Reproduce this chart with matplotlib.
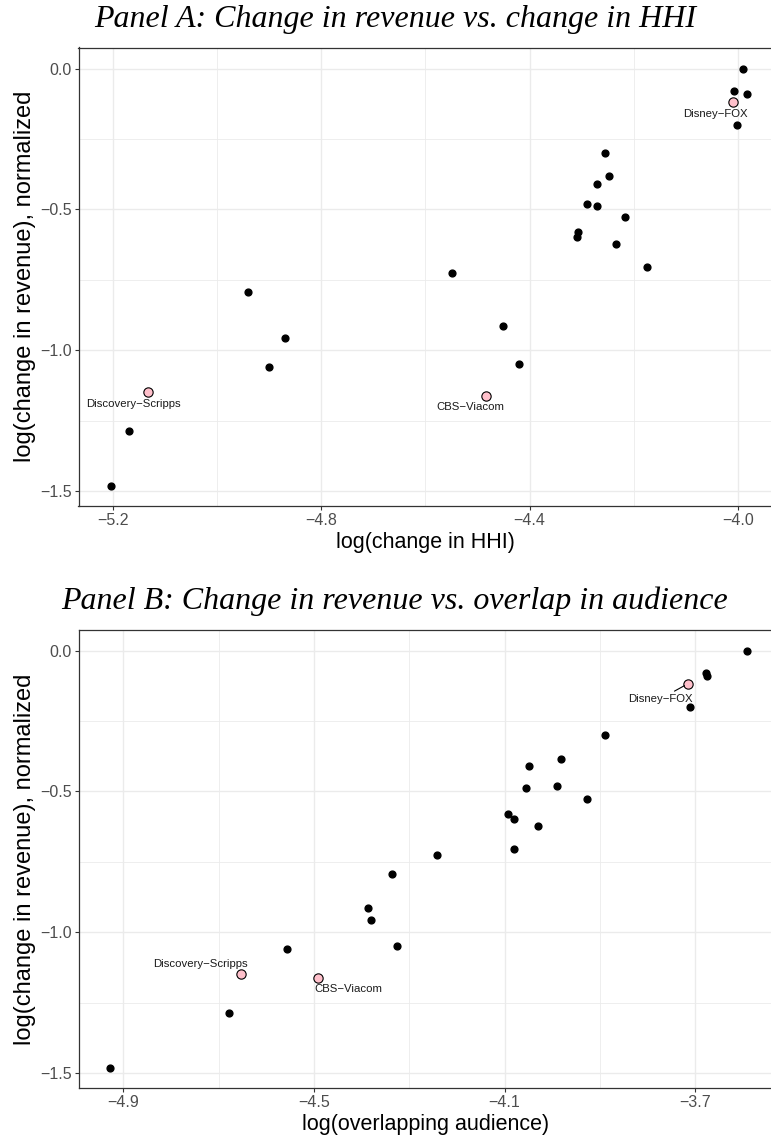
import matplotlib.pyplot as plt
from matplotlib.ticker import MultipleLocator

plt.rcParams["font.family"] = ["Liberation Sans", "DejaVu Sans"]

# merger data: log change in revenue (normalized), log change in HHI, log overlapping audience
revenue = [0.0, -0.081, -0.090, -0.200, -0.300, -0.383, -0.411, -0.482, -0.489, -0.526,
           -0.581, -0.597, -0.622, -0.704, -0.727, -0.792, -0.913, -0.955, -1.050, -1.060,
           -1.288, -1.481]
hhi = [-3.990, -4.007, -3.982, -4.001, -4.256, -4.248, -4.271, -4.290, -4.270, -4.217,
       -4.307, -4.309, -4.234, -4.174, -4.549, -4.940, -4.451, -4.870, -4.420, -4.900,
       -5.168, -5.204]
overlap = [-3.591, -3.678, -3.675, -3.711, -3.890, -3.982, -4.048, -3.990, -4.056, -3.928,
           -4.093, -4.081, -4.031, -4.080, -4.241, -4.336, -4.387, -4.380, -4.325, -4.557,
           -4.678, -4.927]

# highlighted mergers
deals = ["Disney\u2212FOX", "Discovery\u2212Scripps", "CBS\u2212Viacom"]
deal_revenue = [-0.117, -1.147, -1.161]
deal_hhi = [-4.009, -5.133, -4.484]
deal_overlap = [-3.715, -4.653, -4.492]

# label offsets in points (dx, dy) for each panel
offsets_a = [(-13, -9), (-10, -9), (-11, -8)]
offsets_b = [(-20, -11), (-29, 7), (22, -8)]

grid_col = "#EBEBEB"


def style_axis(ax, xmajor, ymajor):
    ax.xaxis.set_major_locator(MultipleLocator(xmajor))
    ax.xaxis.set_minor_locator(MultipleLocator(xmajor / 2))
    ax.yaxis.set_major_locator(MultipleLocator(ymajor))
    ax.yaxis.set_minor_locator(MultipleLocator(ymajor / 2))
    ax.grid(which="major", color=grid_col, linewidth=1.0)
    ax.grid(which="minor", color=grid_col, linewidth=0.6)
    ax.set_axisbelow(True)
    ax.tick_params(which="major", direction="out", length=3, width=0.8, color="#333333",
                   labelsize=11.5, labelcolor="#4D4D4D", pad=2)
    ax.tick_params(which="minor", length=0)
    for s in ax.spines.values():
        s.set_color("#333333")
        s.set_linewidth(0.9)
    ax.spines["right"].set_visible(False)
    ax.set_ylabel("log(change in revenue), normalized", fontsize=17, labelpad=3)


def draw_panel(ax, x, deal_x, offsets, lines=False):
    ax.scatter(x, revenue, s=24, color="black", zorder=3)
    ax.scatter(deal_x, deal_revenue, s=45, facecolor="#FFC0CB", edgecolor="black",
               linewidth=0.8, zorder=4)
    for name, dx_, dy_, off in zip(deals, deal_x, deal_revenue, offsets):
        arrow = None
        if lines and name.startswith("Disney"):
            arrow = dict(arrowstyle="-", color="black", lw=0.8, shrinkA=0, shrinkB=3)
        ax.annotate(name, (dx_, dy_), xytext=off, textcoords="offset points",
                    ha="center", va="center", fontsize=8.2, color="#1A1A1A",
                    arrowprops=arrow, zorder=5)


fig = plt.figure(figsize=(7.71, 11.4), dpi=100)

axA = fig.add_axes([78.5 / 771, 1 - 506 / 1140, 693.5 / 771, 458.5 / 1140])
draw_panel(axA, hhi, deal_hhi, offsets_a)
style_axis(axA, 0.4, 0.5)
axA.set_xlim(-5.2655, -3.9347)
axA.set_ylim(-1.553, 0.075)
axA.set_xlabel("log(change in HHI)", fontsize=15.5, labelpad=3)

axB = fig.add_axes([79 / 771, 1 - 1088 / 1140, 693 / 771, 458 / 1140])
draw_panel(axB, overlap, deal_overlap, offsets_b, lines=True)
style_axis(axB, 0.4, 0.5)
axB.set_xticks([-4.9, -4.5, -4.1, -3.7])
axB.xaxis.set_minor_locator(plt.FixedLocator([-4.7, -4.3, -3.9]))
axB.set_xlim(-4.993, -3.539)
axB.set_ylim(-1.5535, 0.0735)
axB.set_xlabel("log(overlapping audience)", fontsize=15.5, labelpad=3)

fig.text(395 / 771, 1 - 20 / 1140, "Panel A: Change in revenue vs. change in HHI",
         ha="center", va="center", fontsize=23, style="italic", family="Liberation Serif")
fig.text(395 / 771, 1 - 601 / 1140, "Panel B: Change in revenue vs. overlap in audience",
         ha="center", va="center", fontsize=23, style="italic", family="Liberation Serif")

plt.savefig("out.png", dpi=100)
